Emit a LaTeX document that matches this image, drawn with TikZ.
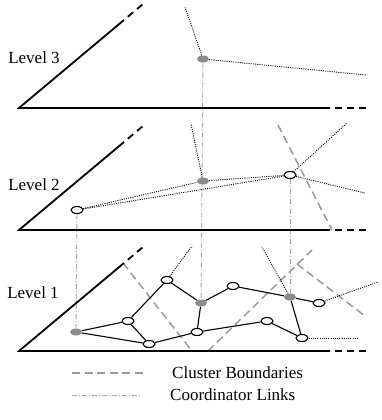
\documentclass[tikz,border=0pt]{standalone}
\usepackage{fontspec}
\setmainfont{Liberation Serif}
\usetikzlibrary{shapes.geometric,backgrounds}
\begin{document}
\begin{tikzpicture}[x=1pt,y=-1pt,
  wn/.style={ellipse,draw,line width=1.1pt,fill=white,minimum width=12pt,minimum height=7pt,inner sep=0pt},
  gn/.style={ellipse,fill=black!45,minimum width=12pt,minimum height=7pt,inner sep=0pt},
  edge/.style={line width=1.1pt},
  dotl/.style={line width=0.9pt,dash pattern=on 1pt off 1.2pt},
  clus/.style={black!40,line width=1.5pt,dash pattern=on 8pt off 4.5pt},
  coordl/.style={black!35,line width=0.9pt,dash pattern=on 5pt off 2pt on 1pt off 2pt},
  base/.style={line width=1.8pt},
  basedash/.style={line width=1.8pt,dash pattern=on 7pt off 5pt,dash phase=7pt},
  lbl/.style={font=\fontsize{17}{20}\selectfont,inner sep=0pt}]
\useasboundingbox (0,0) rectangle (381,420);

% planes
\foreach \y/\n in {108/3,230/2,351/1} {
  \coordinate (o\n) at (19,\y);
  \coordinate (ds\n) at (124,{\y-88});
  \coordinate (de\n) at (143,{\y-104});
  \coordinate (bs\n) at (330,\y);
  \coordinate (be\n) at (366,\y);
  \draw[base] (ds\n) -- (o\n) -- (bs\n);
  \draw[basedash] (ds\n) -- (de\n);
  \draw[basedash] (bs\n) -- (be\n);
}
\node[lbl] (lab3) at (34,58) {Level 3};
\node[lbl] (lab2) at (34,185) {Level 2};
\node[lbl] (lab1) at (33,293) {Level 1};

% level 3
\node[gn] (L3) at (203,59) {};
\coordinate (f3a) at (185,7);
\coordinate (f3b) at (366,75);

% level 2
\node[wn] (A2) at (77,210) {};
\node[gn] (B2) at (203,181) {};
\node[wn] (C2) at (290,175) {};
\coordinate (f2a) at (191,124);
\coordinate (f2b) at (347,123);
\coordinate (f2c) at (365,193);
\coordinate (c2a) at (278,125);
\coordinate (c2b) at (332,230);

% level 1
\node[gn] (g1) at (76,332) {};
\node[wn] (n1) at (128,321) {};
\node[wn] (n2) at (149,344) {};
\node[wn] (n3) at (167,280) {};
\node[gn] (g2) at (201,303) {};
\node[wn] (n4) at (197,332) {};
\node[wn] (n5) at (233,286) {};
\node[wn] (n6) at (267,321) {};
\node[gn] (g3) at (290,297) {};
\node[wn] (n7) at (319,303) {};
\node[wn] (n8) at (302,338) {};
\coordinate (f1a) at (192,246);
\coordinate (f1b) at (262,247);
\coordinate (f1c) at (378,282);
\coordinate (f1d) at (357,338);
\coordinate (c1a) at (123,263);
\coordinate (c1b) at (192,351);
\coordinate (c1c) at (208,351);
\coordinate (c1d) at (312,250);
\coordinate (c1e) at (297,264);
\coordinate (c1f) at (365,316);

% legend
\coordinate (lg1) at (72,373);
\coordinate (lg2) at (143,373);
\coordinate (lg3) at (72,395);
\coordinate (lg4) at (140,395);
\node[lbl,anchor=west] (leg1) at (172,373) {Cluster Boundaries};
\node[lbl,anchor=west] (leg2) at (170,395) {Coordinator Links};

\begin{scope}[on background layer]
  % coordinator links
  \draw[coordl] (L3) -- (g2);
  \draw[coordl] (A2) -- (g1);
  \draw[coordl] (C2) -- (g3);
  % level 3 dotted
  \draw[dotl] (L3) -- (f3a);
  \draw[dotl] (L3) -- (f3b);
  % level 2 dotted
  \draw[dotl] (A2) -- (B2);
  \draw[dotl] (A2) -- (C2);
  \draw[dotl] (B2) -- (C2);
  \draw[dotl] (B2) -- (f2a);
  \draw[dotl] (C2) -- (f2b);
  \draw[dotl] (C2) -- (f2c);
  \draw[clus] (c2a) -- (c2b);
  % level 1
  \draw[clus] (c1a) -- (c1b);
  \draw[clus] (c1c) -- (c1d);
  \draw[clus] (c1e) -- (c1f);
  \draw[edge] (g1) -- (n1);
  \draw[edge] (g1) -- (n2);
  \draw[edge] (n1) -- (n2);
  \draw[edge] (n1) -- (n3);
  \draw[edge] (n3) -- (g2);
  \draw[edge] (g2) -- (n4);
  \draw[edge] (n2) -- (n4);
  \draw[edge] (g2) -- (n5);
  \draw[edge] (n5) -- (g3);
  \draw[edge] (g3) -- (n7);
  \draw[edge] (g3) -- (n8);
  \draw[edge] (n4) -- (n6);
  \draw[edge] (n6) -- (n8);
  \draw[dotl] (n3) -- (f1a);
  \draw[dotl] (g3) -- (f1b);
  \draw[dotl] (n7) -- (f1c);
  \draw[dotl] (n8) -- (f1d);
  % legend
  \draw[clus] (lg1) -- (lg2);
  \draw[coordl] (lg3) -- (lg4);
\end{scope}
\end{tikzpicture}
\end{document}
